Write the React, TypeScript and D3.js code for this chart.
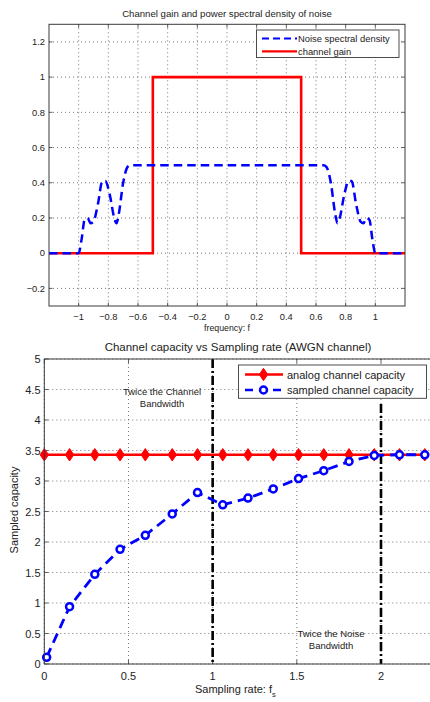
import React from "react";
import * as d3 from "d3";

// ---- Top chart data ----
const gainF = [-1.2, -0.5, -0.5, 0.5, 0.5, 1.2];
const gainV = [0, 0, 1, 1, 0, 0];
const noiseF = [-1.2, -1.0, -0.98, -0.96, -0.94, -0.92, -0.9, -0.87, -0.84, -0.82, -0.79, -0.76, -0.745, -0.73, -0.7, -0.67, -0.65,
  0.65, 0.67, 0.7, 0.73, 0.745, 0.76, 0.79, 0.82, 0.84, 0.87, 0.9, 0.92, 0.94, 0.96, 0.98, 1.0, 1.2];
const noiseV = [0, 0, 0.08, 0.19, 0.2, 0.17, 0.18, 0.28, 0.41, 0.41, 0.33, 0.2, 0.17, 0.22, 0.4, 0.49, 0.5,
  0.5, 0.49, 0.4, 0.22, 0.17, 0.2, 0.33, 0.41, 0.41, 0.28, 0.18, 0.17, 0.2, 0.19, 0.08, 0, 0];
const topXTicks = [-1, -0.8, -0.6, -0.4, -0.2, 0, 0.2, 0.4, 0.6, 0.8, 1];
const topYTicks = [-0.2, 0, 0.2, 0.4, 0.6, 0.8, 1, 1.2];

// ---- Bottom chart data ----
const fs = [0, 0.15, 0.3, 0.45, 0.6, 0.76, 0.91, 1.06, 1.21, 1.36, 1.51, 1.66, 1.81, 1.96, 2.11, 2.26];
const fsSampled = [0.014, 0.15, 0.3, 0.45, 0.6, 0.76, 0.91, 1.06, 1.21, 1.36, 1.51, 1.66, 1.81, 1.96, 2.11, 2.26];
const analogCap = [3.43, 3.43, 3.43, 3.43, 3.43, 3.43, 3.43, 3.43, 3.43, 3.43, 3.43, 3.43, 3.43, 3.43, 3.43, 3.43];
const sampledCap = [0.11, 0.94, 1.47, 1.88, 2.11, 2.46, 2.81, 2.61, 2.72, 2.87, 3.04, 3.17, 3.32, 3.42, 3.43, 3.43];
const markerLines = [1, 2];
const botXTicks = [0, 0.5, 1, 1.5, 2];
const botYTicks = [0, 0.5, 1, 1.5, 2, 2.5, 3, 3.5, 4, 4.5, 5];

const FONT = "'Liberation Sans', Arial, Helvetica, sans-serif";
const TXT = "#222";
const AX = "#3a3a3a";
const GRID = "#555";

const fmt = (v: number) => {
  const s = String(Math.round(v * 10) / 10);
  return s.replace("-", "\u2212");
};

export default function App() {
  const tx = d3.scaleLinear().domain([-1.2, 1.2]).range([49, 405]);
  const ty = d3.scaleLinear().domain([-0.3, 1.3]).range([306, 24.3]);
  const bx = d3.scaleLinear().domain([0, 2.5]).range([44.3, 44.3 + 2.5 * 168.35]);
  const by = d3.scaleLinear().domain([0, 5]).range([664, 359]);

  const lineTop = d3.line<[number, number]>().x((d) => tx(d[0])).y((d) => ty(d[1]));
  const noiseLine = d3
    .line<[number, number]>()
    .x((d) => tx(d[0]))
    .y((d) => ty(d[1]))
    .curve(d3.curveMonotoneX);
  const gainPts = gainF.map((f, i) => [f, gainV[i]] as [number, number]);
  const noisePts = noiseF.map((f, i) => [f, noiseV[i]] as [number, number]);

  const lineBot = d3.line<[number, number]>().x((d) => bx(d[0])).y((d) => by(d[1]));
  const analogPts = fs.map((f, i) => [f, analogCap[i]] as [number, number]);
  const sampledPts = fsSampled.map((f, i) => [f, sampledCap[i]] as [number, number]);

  const tL = 49, tR = 405, tT = 24.3, tB = 306;
  const bL = 44.3, bR = 430, bT = 359, bB = 664;

  const diamond = (cx: number, cy: number, key: string | number) => (
    <path
      key={key}
      d={`M${cx},${cy - 6.2} L${cx + 4.2},${cy} L${cx},${cy + 6.2} L${cx - 4.2},${cy} Z`}
      fill="#ff0000"
      stroke="#ff0000"
      strokeWidth={1}
    />
  );
  const circ = (cx: number, cy: number, key: string | number) => (
    <circle key={key} cx={cx} cy={cy} r={3.5} fill="#fff" stroke="#0000ff" strokeWidth={2.5} />
  );

  return (
    <svg width={430} height={702} style={{ position: "absolute", left: 0, top: 0, background: "#fff" }} fontFamily={FONT}>
      <rect x={0} y={0} width={430} height={702} fill="#fff" />
      {/* ================= TOP CHART ================= */}
      <text x={227} y={17} textAnchor="middle" fontSize={9.6} fill={TXT}>
        Channel gain and power spectral density of noise
      </text>
      {topXTicks.map((t) => (
        <line key={"tgx" + t} x1={tx(t)} x2={tx(t)} y1={tT} y2={tB} stroke={GRID} strokeWidth={0.8} strokeDasharray="1,3" />
      ))}
      {topYTicks.map((t) => (
        <line key={"tgy" + t} x1={tL} x2={tR} y1={ty(t)} y2={ty(t)} stroke={GRID} strokeWidth={0.8} strokeDasharray="1,3" />
      ))}
      {topXTicks.map((t) => (
        <g key={"ttx" + t}>
          <line x1={tx(t)} x2={tx(t)} y1={tB} y2={tB - 3.5} stroke={AX} strokeWidth={0.8} />
          <line x1={tx(t)} x2={tx(t)} y1={tT} y2={tT + 3.5} stroke={AX} strokeWidth={0.8} />
          <text x={tx(t)} y={320} textAnchor="middle" fontSize={9.3} fill={TXT}>
            {fmt(t)}
          </text>
        </g>
      ))}
      {topYTicks.map((t) => (
        <g key={"tty" + t}>
          <line x1={tL} x2={tL + 3.5} y1={ty(t)} y2={ty(t)} stroke={AX} strokeWidth={0.8} />
          <line x1={tR} x2={tR - 3.5} y1={ty(t)} y2={ty(t)} stroke={AX} strokeWidth={0.8} />
          <text x={45} y={ty(t) + 3.3} textAnchor="end" fontSize={9.3} fill={TXT}>
            {fmt(t)}
          </text>
        </g>
      ))}
      <text x={227} y={331} textAnchor="middle" fontSize={8.8} fill={TXT}>
        frequency: f
      </text>
      <path d={lineTop(gainPts) || ""} fill="none" stroke="#ff0000" strokeWidth={2.6} />
      <path d={noiseLine(noisePts) || ""} fill="none" stroke="#0000ff" strokeWidth={2.5} strokeDasharray="8.5,5" />
      <rect x={tL} y={tT} width={tR - tL} height={tB - tT} fill="none" stroke={AX} strokeWidth={1} />
      {/* legend */}
      <rect x={256.5} y={30} width={142.5} height={27.5} fill="#fff" stroke={AX} strokeWidth={0.9} />
      <line x1={262} x2={297} y1={38.5} y2={38.5} stroke="#0000ff" strokeWidth={2.2} strokeDasharray="7,4" />
      <text x={298} y={41.8} fontSize={9.4} fill={TXT}>Noise spectral density</text>
      <line x1={262} x2={297} y1={51.3} y2={51.3} stroke="#ff0000" strokeWidth={2.2} />
      <text x={298} y={54.6} fontSize={9.4} fill={TXT}>channel gain</text>

      {/* ================= BOTTOM CHART ================= */}
      <text x={238} y={351} textAnchor="middle" fontSize={11.5} fill={TXT}>
        Channel capacity vs Sampling rate (AWGN channel)
      </text>
      {botXTicks.map((t) => (
        <line key={"bgx" + t} x1={bx(t)} x2={bx(t)} y1={bT} y2={bB} stroke={GRID} strokeWidth={0.8} strokeDasharray="1,3" />
      ))}
      {botYTicks.map((t) => (
        <line key={"bgy" + t} x1={bL} x2={bR} y1={by(t)} y2={by(t)} stroke={GRID} strokeWidth={0.8} strokeDasharray="1,3" />
      ))}
      {botXTicks.map((t) => (
        <g key={"btx" + t}>
          <line x1={bx(t)} x2={bx(t)} y1={bB} y2={bB - 4} stroke={AX} strokeWidth={0.8} />
          <line x1={bx(t)} x2={bx(t)} y1={bT} y2={bT + 4} stroke={AX} strokeWidth={0.8} />
          <text x={bx(t)} y={680} textAnchor="middle" fontSize={11} fill={TXT}>
            {fmt(t)}
          </text>
        </g>
      ))}
      {botYTicks.map((t) => (
        <g key={"bty" + t}>
          <line x1={bL} x2={bL + 4} y1={by(t)} y2={by(t)} stroke={AX} strokeWidth={0.8} />
          <text x={40.5} y={by(t) + 4} textAnchor="end" fontSize={11} fill={TXT}>
            {fmt(t)}
          </text>
        </g>
      ))}
      <text x={14} y={510} transform="rotate(-90 14 510)" textAnchor="middle" fontSize={11} fill={TXT} dy={4}>
        Sampled capacity
      </text>
      <text x={195} y={693} fontSize={11} fill={TXT}>
        Sampling rate: f
        <tspan fontSize={7.5} dy={3.5}>s</tspan>
      </text>
      <line x1={bx(markerLines[0])} x2={bx(markerLines[0])} y1={bT} y2={bB} stroke="#000" strokeWidth={2.6} strokeDasharray="9,3,2,3" />
      <line x1={bx(markerLines[1])} x2={bx(markerLines[1])} y1={404} y2={bB} stroke="#000" strokeWidth={2.6} strokeDasharray="9,3,2,3" />
      <text x={162} y={395} textAnchor="middle" fontSize={9.5} fill={TXT}>Twice the Channel</text>
      <text x={162} y={406.5} textAnchor="middle" fontSize={9.5} fill={TXT}>Bandwidth</text>
      <text x={331} y={637} textAnchor="middle" fontSize={9.5} fill={TXT}>Twice the Noise</text>
      <text x={331} y={649} textAnchor="middle" fontSize={9.5} fill={TXT}>Bandwidth</text>
      <path d={lineBot(analogPts) || ""} fill="none" stroke="#ff0000" strokeWidth={2.6} />
      {analogPts.map((p, i) => diamond(bx(p[0]), by(p[1]), "d" + i))}
      <path d={lineBot(sampledPts) || ""} fill="none" stroke="#0000ff" strokeWidth={2.8} strokeDasharray="10,6" />
      {sampledPts.map((p, i) => circ(bx(p[0]), by(p[1]), "c" + i))}
      <line x1={bL} x2={bR} y1={bT} y2={bT} stroke={AX} strokeWidth={1} />
      <line x1={bL} x2={bR} y1={bB} y2={bB} stroke={AX} strokeWidth={1} />
      <line x1={bL} x2={bL} y1={bT} y2={bB} stroke={AX} strokeWidth={1} />
      {/* legend */}
      <rect x={238.5} y={365} width={188} height={33.3} fill="#fff" stroke={AX} strokeWidth={0.9} />
      <line x1={245} x2={283} y1={374.5} y2={374.5} stroke="#ff0000" strokeWidth={2.4} />
      {diamond(263.5, 374.5, "ld")}
      <text x={287} y={378.5} fontSize={11} fill={TXT}>analog channel capacity</text>
      <line x1={245} x2={283} y1={390} y2={390} stroke="#0000ff" strokeWidth={2.6} strokeDasharray="8,6" />
      {circ(263.5, 390, "lc")}
      <text x={287} y={394} fontSize={11} fill={TXT}>sampled channel capacity</text>
    </svg>
  );
}
